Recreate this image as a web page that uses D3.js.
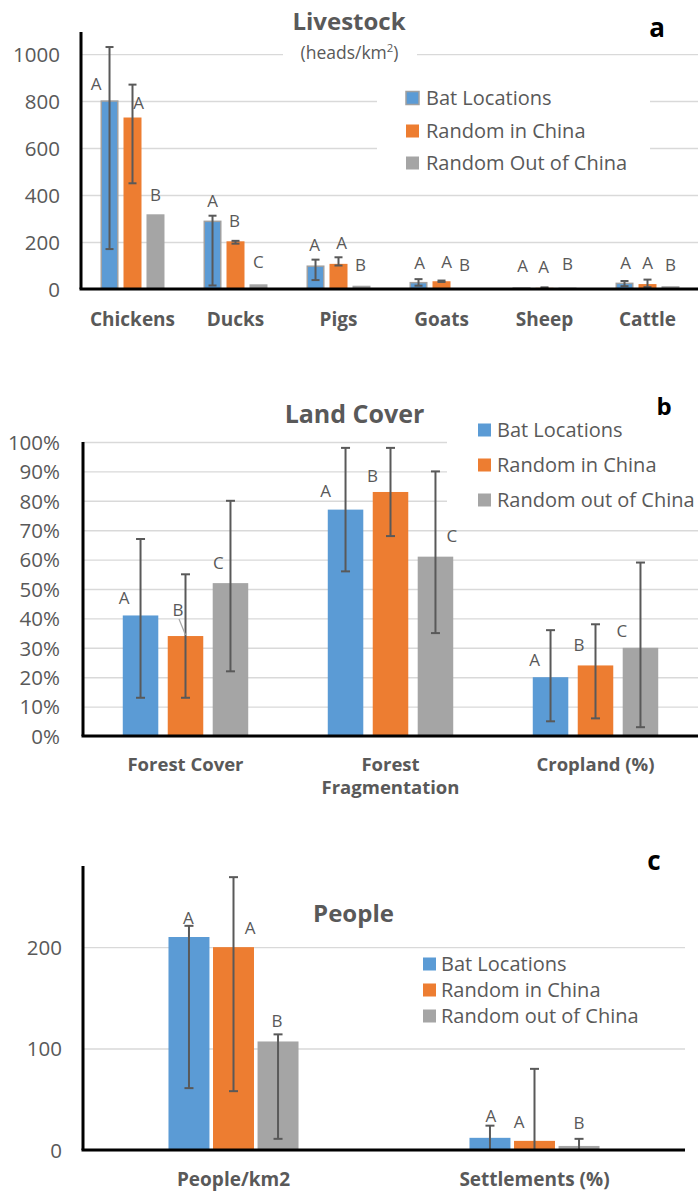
<!DOCTYPE html>
<html>
<head>
<meta charset="utf-8">
<script src="https://cdn.jsdelivr.net/npm/d3@7"></script>
<style>
  html, body { margin: 0; padding: 0; background: #fff; }
  svg { display: block; font-family: "Open Sans", sans-serif; }
</style>
</head>
<body>
<svg id="chart" width="698" height="1193"></svg>
<script>
// ---------------- data ----------------
const seriesLivestock = ["Bat Locations", "Random in China", "Random Out of China"];
const seriesOther = ["Bat Locations", "Random in China", "Random out of China"];

// (a) Livestock, heads/km²
const livestockCategories = ["Chickens", "Ducks", "Pigs", "Goats", "Sheep", "Cattle"];
const livestockBat   = [800, 288, 97, 27, 4, 24];
const livestockChina = [730, 203, 107, 33, 5, 21];
const livestockOut   = [318, 20, 14, 0, 6, 12];
const livestockBatErr   = [[170, 1030], [15, 312], [38, 125], [14, 42], null, [12, 34]];
const livestockChinaErr = [[450, 870], [193, 205], [100, 135], [30, 36], [2, 7], [8, 40]];
const livestockOutErr   = [null, null, null, null, null, null];
const livestockLetters  = [["A","A","B"], ["A","B","C"], ["A","A","B"], ["A","A","B"], ["A","A","B"], ["A","A","B"]];
const livestockTicks = [0, 200, 400, 600, 800, 1000];

// (b) Land cover, share of area
const landCategories = ["Forest Cover", "Forest Fragmentation", "Cropland (%)"];
const landBat   = [0.41, 0.77, 0.20];
const landChina = [0.34, 0.83, 0.24];
const landOut   = [0.52, 0.61, 0.30];
const landBatErr   = [[0.13, 0.67], [0.56, 0.98], [0.05, 0.36]];
const landChinaErr = [[0.13, 0.55], [0.68, 0.98], [0.06, 0.38]];
const landOutErr   = [[0.22, 0.80], [0.35, 0.90], [0.03, 0.59]];
const landLetters  = [["A","B","C"], ["A","B","C"], ["A","B","C"]];
const landTicks = [0, 0.1, 0.2, 0.3, 0.4, 0.5, 0.6, 0.7, 0.8, 0.9, 1.0];

// (c) People
const peopleCategories = ["People/km2", "Settlements (%)"];
const peopleBat   = [210, 12];
const peopleChina = [200, 9];
const peopleOut   = [107, 4];
const peopleBatErr   = [[61, 221], [0, 24]];
const peopleChinaErr = [[58, 269], [0, 80]];
const peopleOutErr   = [[11, 114], [0, 11]];
const peopleLetters  = [["A","A","B"], ["A","A","B"]];
const peopleTicks = [0, 100, 200];

// ---------------- style ----------------
const colors = ["#5B9BD5", "#ED7D31", "#A5A5A5"];
const textGrey = "#595959";
const gridColor = "#D9D9D9";
const errColor = "#595959";
const FONT = "'Open Sans', sans-serif";

const svg = d3.select("#chart");

function wrapWords(text, maxWidth, fontSize, weight) {
  const probe = svg.append("text").attr("font-family", FONT)
    .attr("font-size", fontSize).attr("font-weight", weight);
  const words = text.split(" ");
  const lines = [];
  let line = [];
  words.forEach(w => {
    const test = line.concat(w).join(" ");
    probe.text(test);
    if (line.length && probe.node().getComputedTextLength() > maxWidth) {
      lines.push(line.join(" "));
      line = [w];
    } else {
      line.push(w);
    }
  });
  lines.push(line.join(" "));
  probe.remove();
  return lines;
}

function drawPanel(p) {
  const g = svg.append("g");
  const [x0, x1] = p.xRange;

  const x = d3.scaleBand().domain(p.categories).range(p.xRange)
    .paddingInner(p.groupPad).paddingOuter(p.groupPad / 2);
  const xs = d3.scaleBand().domain(d3.range(p.values.length))
    .range([0, x.bandwidth()]).paddingInner(p.barPad);
  const y = d3.scaleLinear().domain([0, p.yMax]).range(p.yRange);

  // horizontal gridlines
  g.append("g").attr("transform", `translate(${x0},0)`)
    .call(d3.axisLeft(y).tickValues(p.ticks).tickSize(-(x1 - x0)).tickFormat(""))
    .call(a => a.select(".domain").remove())
    .call(a => a.selectAll("line").attr("stroke", gridColor).attr("stroke-width", 1.4));

  // white text boxes sitting over the grid (legend, subtitle)
  (p.masks || []).forEach(m => {
    g.append("rect").attr("x", m[0]).attr("y", m[1]).attr("width", m[2]).attr("height", m[3]).attr("fill", "#fff");
  });

  const rows = p.categories.flatMap((c, i) => p.values.map((vals, s) => ({
    c, i, s, v: vals[i], err: p.errors[s][i], letter: p.letters[i][s], nudge: p.letterNudges[i][s]
  })));
  const cx = d => x(d.c) + xs(d.s) + xs.bandwidth() / 2;

  // bars
  g.selectAll("rect.bar").data(rows).join("rect").attr("class", "bar")
    .attr("x", d => x(d.c) + xs(d.s) + (p.blueOutline && d.s === 0 ? 0.75 : 0))
    .attr("width", d => xs.bandwidth() - (p.blueOutline && d.s === 0 ? 1.5 : 0))
    .attr("y", d => y(d.v))
    .attr("height", d => y(0) - y(d.v))
    .attr("fill", d => colors[d.s])
    .attr("stroke", d => (p.blueOutline && d.s === 0) ? "#A0A0A0" : "none")
    .attr("stroke-width", 1.5);

  // error bars
  const eg = g.append("g").attr("stroke", errColor).attr("stroke-width", 2);
  rows.filter(d => d.err).forEach(d => {
    const c = cx(d), lo = y(d.err[0]), hi = y(d.err[1]);
    eg.append("line").attr("x1", c).attr("x2", c).attr("y1", lo).attr("y2", hi);
    [lo, hi].forEach(yy => eg.append("line")
      .attr("x1", c - p.cap).attr("x2", c + p.cap).attr("y1", yy).attr("y2", yy));
  });

  // axis lines
  g.append("line").attr("x1", x0).attr("x2", x0).attr("y1", y(p.yMax)).attr("y2", y(0))
    .attr("stroke", "#000").attr("stroke-width", 3);
  g.append("line").attr("x1", x0 - 1.5).attr("x2", x1).attr("y1", y(0)).attr("y2", y(0))
    .attr("stroke", "#000").attr("stroke-width", 3);

  // y tick labels
  const ya = g.append("g").attr("transform", `translate(${x0},0)`)
    .call(d3.axisLeft(y).tickValues(p.ticks).tickSize(0).tickPadding(p.tickPad).tickFormat(p.tickFormat));
  ya.attr("font-family", null).attr("font-size", null);
  ya.select(".domain").remove();
  ya.selectAll("text").attr("font-family", FONT).attr("font-size", 20.5)
    .attr("fill", textGrey).attr("dy", "0.36em");

  // category labels
  p.categories.forEach(c => {
    const lines = wrapWords(c, x.step() * 0.9, p.catSize, 700);
    const t = g.append("text").attr("x", x(c) + x.bandwidth() / 2).attr("y", p.catBaseline)
      .attr("text-anchor", "middle").attr("font-family", FONT).attr("font-size", p.catSize)
      .attr("font-weight", 700).attr("fill", textGrey);
    lines.forEach((ln, k) => t.append("tspan").attr("x", x(c) + x.bandwidth() / 2)
      .attr("dy", k === 0 ? 0 : p.catLineHeight).text(ln));
  });

  // significance letters
  const lsize = 17;
  rows.forEach(d => {
    const lx = cx(d) + d.nudge[0];
    const ly = y(d.v) + d.nudge[1];
    g.append("text").attr("x", lx).attr("y", ly).attr("dy", "0.36em")
      .attr("text-anchor", "middle").attr("font-family", FONT).attr("font-size", lsize)
      .attr("fill", textGrey).text(d.letter);
    if (p.leaders && p.leaders.some(q => q[0] === d.i && q[1] === d.s)) {
      g.append("line").attr("x1", lx + 1).attr("y1", ly + 9).attr("x2", cx(d)).attr("y2", y(d.v) - 1)
        .attr("stroke", "#A6A6A6").attr("stroke-width", 1.2);
    }
  });

  // title, subtitle, panel letter
  g.append("text").attr("x", p.title.x).attr("y", p.title.y).attr("text-anchor", "middle")
    .attr("font-family", FONT).attr("font-size", p.title.size).attr("font-weight", 700)
    .attr("fill", textGrey).text(p.title.text);
  if (p.subtitle) {
    const st = g.append("text").attr("x", p.subtitle.x).attr("y", p.subtitle.y).attr("text-anchor", "middle")
      .attr("font-family", FONT).attr("font-size", p.subtitle.size).attr("fill", textGrey);
    st.append("tspan").text("(heads/km");
    st.append("tspan").attr("font-size", p.subtitle.size * 0.65).attr("dy", -7).text("2");
    st.append("tspan").attr("dy", 7).text(")");
  }
  g.append("text").attr("x", p.panelLabel.x).attr("y", p.panelLabel.y).attr("text-anchor", "middle")
    .attr("font-family", FONT).attr("font-size", p.panelLabel.size).attr("font-weight", 700)
    .attr("fill", "#000").text(p.panelLabel.text);

  // legend
  const lg = g.append("g");
  p.series.forEach((name, s) => {
    const cy = p.legend.rows[s];
    lg.append("rect").attr("x", p.legend.x).attr("y", cy - 6.5).attr("width", 13).attr("height", 13)
      .attr("fill", colors[s])
      .attr("stroke", (p.blueOutline && s === 0) ? "#A0A0A0" : "none").attr("stroke-width", 1.5);
    lg.append("text").attr("x", p.legend.x + p.legend.gap).attr("y", cy).attr("dy", "0.36em")
      .attr("font-family", FONT).attr("font-size", 20).attr("fill", textGrey).text(name);
  });
}

// ---------------- panels ----------------
drawPanel({
  categories: livestockCategories,
  series: seriesLivestock,
  values: [livestockBat, livestockChina, livestockOut],
  errors: [livestockBatErr, livestockChinaErr, livestockOutErr],
  letters: livestockLetters,
  letterNudges: [
    [[-13.5, -17], [6, -14.5], [0, -19]],
    [[0, -20], [-1, -20], [0, -22]],
    [[-1, -21], [3, -21], [-1, -21]],
    [[1, -20], [5, -19], [0, -24]],
    [[1, -22], [-1, -21], [0, -24]],
    [[1, -20], [0, -21], [0, -21]]
  ],
  ticks: livestockTicks, tickFormat: d3.format("d"), yMax: 1094,
  xRange: [81, 699], yRange: [289, 32],
  groupPad: 0.379, barPad: 0.217, cap: 4,
  blueOutline: true,
  masks: [[283, 40, 134, 28], [377, 75, 273, 110]],
  tickPad: 21,
  catSize: 19, catBaseline: 326, catLineHeight: 21,
  title: { text: "Livestock", x: 349, y: 30, size: 24 },
  subtitle: { x: 349.5, y: 59, size: 17.5 },
  panelLabel: { text: "a", x: 657, y: 37, size: 26 },
  legend: { x: 406, gap: 20, rows: [98, 131, 163] }
});

drawPanel({
  categories: landCategories,
  series: seriesOther,
  values: [landBat, landChina, landOut],
  errors: [landBatErr, landChinaErr, landOutErr],
  letters: landLetters,
  letterNudges: [
    [[-16.5, -17.5], [-7.5, -26], [-12, -20]],
    [[-20, -18.6], [-18, -16], [16.5, -20.7]],
    [[-16, -17], [-16.5, -20.4], [-18.5, -17]]
  ],
  leaders: [[0, 1]],
  ticks: landTicks, tickFormat: d3.format(".0%"), yMax: 1,
  xRange: [83, 698], yRange: [736, 442],
  groupPad: 0.388, barPad: 0.21, cap: 4.5,
  blueOutline: false,
  masks: [[447, 400, 251, 118]],
  tickPad: 23,
  catSize: 18.5, catBaseline: 771, catLineHeight: 23,
  title: { text: "Land Cover", x: 354.5, y: 423, size: 25 },
  panelLabel: { text: "b", x: 664, y: 415, size: 24 },
  legend: { x: 478, gap: 19, rows: [430, 465, 500] }
});

drawPanel({
  categories: peopleCategories,
  series: seriesOther,
  values: [peopleBat, peopleChina, peopleOut],
  errors: [peopleBatErr, peopleChinaErr, peopleOutErr],
  letters: peopleLetters,
  letterNudges: [
    [[-0.5, -19], [16.5, -19], [-1, -21]],
    [[1, -22], [-15.5, -19], [0, -23]]
  ],
  ticks: peopleTicks, tickFormat: d3.format("d"), yMax: 280,
  xRange: [83, 685], yRange: [1150, 866],
  groupPad: 0.568, barPad: 0.08, cap: 4.5,
  blueOutline: false,
  masks: [],
  tickPad: 21,
  catSize: 19, catBaseline: 1186, catLineHeight: 21,
  title: { text: "People", x: 353.5, y: 922, size: 24 },
  panelLabel: { text: "c", x: 654, y: 870, size: 26 },
  legend: { x: 423, gap: 18, rows: [964, 990, 1016] }
});
</script>
</body>
</html>
